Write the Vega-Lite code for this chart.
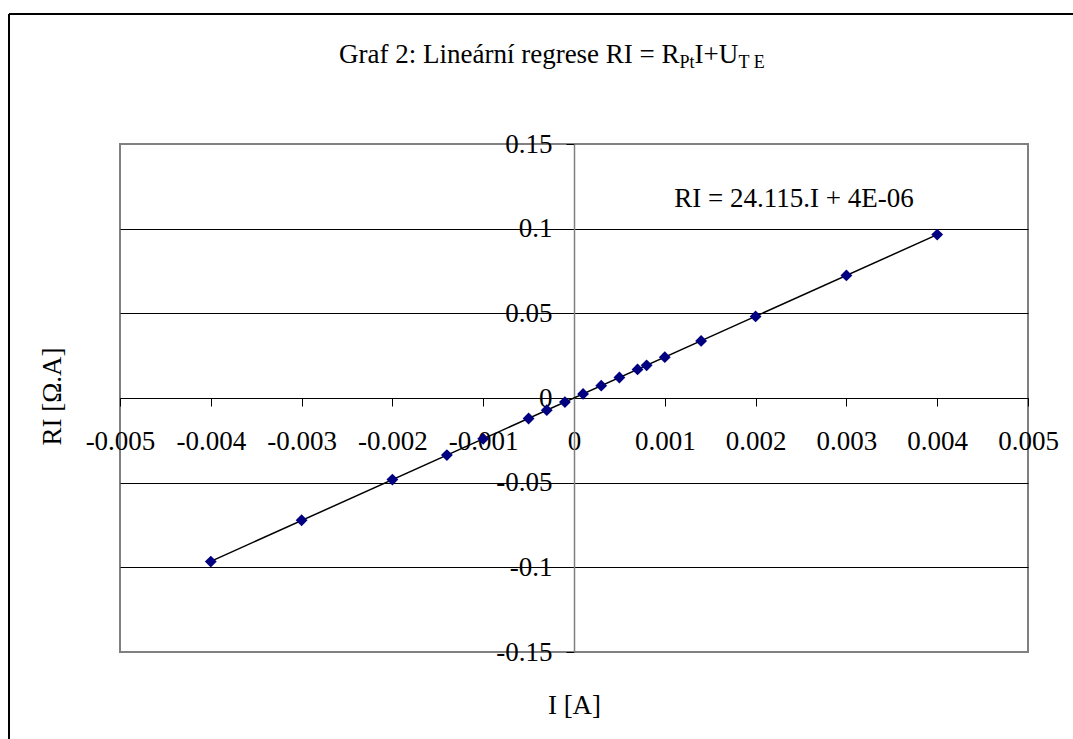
{
  "$schema": "https://vega.github.io/schema/vega-lite/v6.json",
  "width": 908,
  "height": 508,
  "autosize": {"type": "none"},
  "padding": {"left": 120, "top": 144, "right": 45, "bottom": 87},
  "background": "white",
  "config": {
    "view": {"stroke": "#808080", "strokeWidth": 2},
    "font": "Liberation Serif",
    "text": {"font": "Liberation Serif", "color": "black"}
  },
  "data": {
    "values": [
      {"I": -0.004, "RI": -0.0966},
      {"I": -0.003, "RI": -0.0722},
      {"I": -0.002, "RI": -0.0482},
      {"I": -0.0014, "RI": -0.0337},
      {"I": -0.001, "RI": -0.0241},
      {"I": -0.0005, "RI": -0.0121},
      {"I": -0.0003, "RI": -0.0072},
      {"I": -0.0001, "RI": -0.0024},
      {"I": 0.0001, "RI": 0.0024},
      {"I": 0.0003, "RI": 0.0073},
      {"I": 0.0005, "RI": 0.0121},
      {"I": 0.0007, "RI": 0.0169},
      {"I": 0.0008, "RI": 0.0193},
      {"I": 0.001, "RI": 0.0241},
      {"I": 0.0014, "RI": 0.0337},
      {"I": 0.002, "RI": 0.0482},
      {"I": 0.003, "RI": 0.0724},
      {"I": 0.004, "RI": 0.0965}
    ]
  },
  "layer": [
    {
      "transform": [{"regression": "RI", "on": "I"}],
      "mark": {"type": "line", "color": "black", "strokeWidth": 1.5},
      "encoding": {
        "x": {
          "field": "I", "type": "quantitative",
          "scale": {"domain": [-0.005, 0.005], "nice": false, "zero": false},
          "axis": {
            "orient": "bottom",
            "offset": -254,
            "values": [-0.005, -0.004, -0.003, -0.002, -0.001, 0, 0.001, 0.002, 0.003, 0.004, 0.005],
            "labelExpr": "toString(datum.value)",
            "labelFont": "Liberation Serif",
            "labelFontSize": 27,
            "labelColor": "black",
            "labelBaseline": "alphabetic",
            "labelPadding": 43,
            "labelOverlap": false,
            "labelFlush": false,
            "labelBound": false,
            "tickColor": "black",
            "tickSize": 8,
            "tickWidth": 1,
            "domainColor": "black",
            "domainWidth": 1,
            "grid": false,
            "title": "I [A]",
            "titleFont": "Liberation Serif",
            "titleFontSize": 27,
            "titleFontWeight": "normal",
            "titleColor": "black",
            "titleX": 454,
            "titleY": 315,
            "titleAlign": "center",
            "titleBaseline": "alphabetic"
          }
        },
        "y": {
          "field": "RI", "type": "quantitative",
          "scale": {"domain": [-0.15, 0.15], "nice": false, "zero": false},
          "axis": {
            "orient": "left",
            "offset": -454,
            "values": [-0.15, -0.1, -0.05, 0, 0.05, 0.1, 0.15],
            "labelExpr": "toString(datum.value)",
            "labelFont": "Liberation Serif",
            "labelFontSize": 27,
            "labelColor": "black",
            "labelPadding": 14,
            "labelOverlap": false,
            "labelFlush": false,
            "labelBound": false,
            "tickColor": "black",
            "tickSize": 8,
            "tickWidth": 1,
            "domainColor": "#808080",
            "domainWidth": 1.5,
            "grid": true,
            "gridColor": "black",
            "gridWidth": 1,
            "gridOpacity": {"condition": {"test": "abs(datum.value) > 0.14", "value": 0}, "value": 1},
            "title": "RI [Ω.A]",
            "titleFont": "Liberation Serif",
            "titleFontSize": 27,
            "titleFontWeight": "normal",
            "titleColor": "black",
            "titleX": -514,
            "titleY": 252,
            "titleAngle": -90,
            "titleAlign": "center",
            "titleBaseline": "alphabetic"
          }
        }
      }
    },
    {
      "mark": {"type": "point", "shape": "diamond", "filled": true, "color": "#000080", "size": 140, "opacity": 1, "strokeWidth": 0},
      "encoding": {
        "x": {"field": "I", "type": "quantitative"},
        "y": {"field": "RI", "type": "quantitative"}
      }
    },
    {
      "data": {"values": [{"label": "RI = 24.115.I + 4E-06"}]},
      "mark": {"type": "text", "fontSize": 27, "align": "center", "baseline": "alphabetic"},
      "encoding": {
        "x": {"datum": 0.002423},
        "y": {"datum": 0.11262},
        "text": {"field": "label"}
      }
    },
    {
      "data": {"values": [{"label": "Graf 2: Lineární regrese RI = R"}]},
      "mark": {"type": "text", "fontSize": 27, "align": "right", "baseline": "alphabetic"},
      "encoding": {
        "x": {"datum": 0.001163},
        "y": {"datum": 0.19766},
        "text": {"field": "label"}
      }
    },
    {
      "data": {"values": [{"label": "Pt"}]},
      "mark": {"type": "text", "fontSize": 18, "align": "left", "baseline": "alphabetic", "dx": 0, "dy": 5},
      "encoding": {
        "x": {"datum": 0.001163},
        "y": {"datum": 0.19766},
        "text": {"field": "label"}
      }
    },
    {
      "data": {"values": [{"label": "I+U"}]},
      "mark": {"type": "text", "fontSize": 27, "align": "left", "baseline": "alphabetic", "dx": 15},
      "encoding": {
        "x": {"datum": 0.001163},
        "y": {"datum": 0.19766},
        "text": {"field": "label"}
      }
    },
    {
      "data": {"values": [{"label": "T E"}]},
      "mark": {"type": "text", "fontSize": 18, "align": "left", "baseline": "alphabetic", "dx": 59, "dy": 5},
      "encoding": {
        "x": {"datum": 0.001163},
        "y": {"datum": 0.19766},
        "text": {"field": "label"}
      }
    },
    {
      "data": {"values": [{}]},
      "mark": {"type": "rule", "color": "black", "strokeWidth": 2},
      "encoding": {
        "x": {"datum": -0.0062225},
        "y": {"datum": 0.22677},
        "y2": {"datum": -0.25}
      }
    },
    {
      "data": {"values": [{}]},
      "mark": {"type": "rule", "color": "black", "strokeWidth": 2},
      "encoding": {
        "x": {"datum": -0.0062225},
        "x2": {"datum": 0.0065},
        "y": {"datum": 0.22677}
      }
    }
  ]
}
